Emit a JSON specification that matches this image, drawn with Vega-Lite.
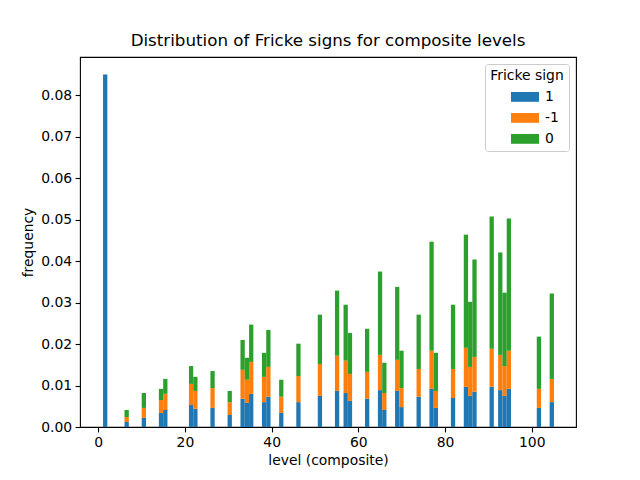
{
  "$schema": "https://vega.github.io/schema/vega-lite/v6.json",
  "width": 496,
  "height": 370,
  "autosize": "none",
  "padding": {"left": 80, "top": 57, "right": 64, "bottom": 53},
  "config": {
    "font": "DejaVu Sans",
    "view": {"stroke": "black", "strokeWidth": 1.1},
    "axis": {
      "labelFont": "DejaVu Sans", "labelFontSize": 13.9, "labelColor": "black",
      "titleFont": "DejaVu Sans", "titleFontSize": 13.9, "titleFontWeight": "normal", "titleColor": "black",
      "tickColor": "black", "tickSize": 4.9, "tickWidth": 1.1,
      "domain": false, "grid": false, "labelPadding": 3.5
    }
  },
  "title": {
    "text": "Distribution of Fricke signs for composite levels",
    "font": "DejaVu Sans", "fontSize": 16.7, "fontWeight": "normal", "color": "black", "offset": 7
  },
  "data": {
    "values": [
      {"bin_start": 1.000, "bin_end": 1.990, "1": 0.0850, "-1": 0, "0": 0},
      {"bin_start": 5.952, "bin_end": 6.943, "1": 0.0012, "-1": 0.0012, "0": 0.0017},
      {"bin_start": 9.914, "bin_end": 10.905, "1": 0.0022, "-1": 0.0024, "0": 0.0036},
      {"bin_start": 13.876, "bin_end": 14.867, "1": 0.0034, "-1": 0.0031, "0": 0.0027},
      {"bin_start": 14.867, "bin_end": 15.857, "1": 0.0041, "-1": 0.0039, "0": 0.0036},
      {"bin_start": 20.810, "bin_end": 21.800, "1": 0.0053, "-1": 0.0051, "0": 0.0043},
      {"bin_start": 21.800, "bin_end": 22.790, "1": 0.0044, "-1": 0.0043, "0": 0.0034},
      {"bin_start": 25.762, "bin_end": 26.752, "1": 0.0046, "-1": 0.0048, "0": 0.0041},
      {"bin_start": 29.724, "bin_end": 30.714, "1": 0.0029, "-1": 0.0031, "0": 0.0027},
      {"bin_start": 32.695, "bin_end": 33.686, "1": 0.0068, "-1": 0.0070, "0": 0.0072},
      {"bin_start": 33.686, "bin_end": 34.676, "1": 0.0058, "-1": 0.0056, "0": 0.0053},
      {"bin_start": 34.676, "bin_end": 35.667, "1": 0.0080, "-1": 0.0077, "0": 0.0090},
      {"bin_start": 37.648, "bin_end": 38.638, "1": 0.0060, "-1": 0.0061, "0": 0.0058},
      {"bin_start": 38.638, "bin_end": 39.629, "1": 0.0073, "-1": 0.0072, "0": 0.0089},
      {"bin_start": 41.610, "bin_end": 42.600, "1": 0.0034, "-1": 0.0039, "0": 0.0041},
      {"bin_start": 45.571, "bin_end": 46.562, "1": 0.0060, "-1": 0.0063, "0": 0.0078},
      {"bin_start": 50.524, "bin_end": 51.514, "1": 0.0075, "-1": 0.0077, "0": 0.0119},
      {"bin_start": 54.486, "bin_end": 55.476, "1": 0.0087, "-1": 0.0085, "0": 0.0157},
      {"bin_start": 56.467, "bin_end": 57.457, "1": 0.0082, "-1": 0.0078, "0": 0.0135},
      {"bin_start": 57.457, "bin_end": 58.448, "1": 0.0063, "-1": 0.0065, "0": 0.0099},
      {"bin_start": 61.419, "bin_end": 62.410, "1": 0.0068, "-1": 0.0065, "0": 0.0104},
      {"bin_start": 64.390, "bin_end": 65.381, "1": 0.0089, "-1": 0.0085, "0": 0.0201},
      {"bin_start": 65.381, "bin_end": 66.371, "1": 0.0041, "-1": 0.0041, "0": 0.0073},
      {"bin_start": 68.352, "bin_end": 69.343, "1": 0.0087, "-1": 0.0075, "0": 0.0176},
      {"bin_start": 69.343, "bin_end": 70.333, "1": 0.0048, "-1": 0.0046, "0": 0.0090},
      {"bin_start": 73.305, "bin_end": 74.295, "1": 0.0073, "-1": 0.0067, "0": 0.0131},
      {"bin_start": 76.276, "bin_end": 77.267, "1": 0.0092, "-1": 0.0092, "0": 0.0263},
      {"bin_start": 77.267, "bin_end": 78.257, "1": 0.0046, "-1": 0.0041, "0": 0.0092},
      {"bin_start": 81.229, "bin_end": 82.219, "1": 0.0070, "-1": 0.0070, "0": 0.0155},
      {"bin_start": 84.200, "bin_end": 85.190, "1": 0.0097, "-1": 0.0094, "0": 0.0273},
      {"bin_start": 85.190, "bin_end": 86.181, "1": 0.0075, "-1": 0.0070, "0": 0.0157},
      {"bin_start": 86.181, "bin_end": 87.171, "1": 0.0085, "-1": 0.0084, "0": 0.0235},
      {"bin_start": 90.143, "bin_end": 91.133, "1": 0.0097, "-1": 0.0092, "0": 0.0319},
      {"bin_start": 92.124, "bin_end": 93.114, "1": 0.0089, "-1": 0.0085, "0": 0.0247},
      {"bin_start": 93.114, "bin_end": 94.105, "1": 0.0075, "-1": 0.0072, "0": 0.0177},
      {"bin_start": 94.105, "bin_end": 95.095, "1": 0.0092, "-1": 0.0092, "0": 0.0319},
      {"bin_start": 101.038, "bin_end": 102.029, "1": 0.0046, "-1": 0.0046, "0": 0.0126},
      {"bin_start": 104.010, "bin_end": 105.000, "1": 0.0060, "-1": 0.0056, "0": 0.0206}
    ]
  },
  "transform": [
    {"fold": ["1", "-1", "0"], "as": ["sign", "frequency"]},
    {"stack": "frequency", "groupby": ["bin_start"], "as": ["f0", "f1"]}
  ],
  "mark": {"type": "bar", "binSpacing": 0},
  "encoding": {
    "x": {
      "field": "bin_start", "type": "quantitative", "bin": "binned",
      "scale": {"domain": [-4.2, 110.2], "nice": false, "zero": false},
      "axis": {"values": [0, 20, 40, 60, 80, 100], "format": "d", "title": "level (composite)", "titlePadding": 4}
    },
    "x2": {"field": "bin_end"},
    "y": {
      "field": "f0", "type": "quantitative",
      "scale": {"domain": [0, 0.08925], "nice": false},
      "axis": {"values": [0, 0.01, 0.02, 0.03, 0.04, 0.05, 0.06, 0.07, 0.08], "format": ".2f", "title": "frequency", "titlePadding": 5}
    },
    "y2": {"field": "f1"},
    "color": {
      "field": "sign", "type": "nominal", "sort": ["1", "-1", "0"],
      "scale": {"domain": ["1", "-1", "0"], "range": ["#1f77b4", "#ff7f0e", "#2ca02c"]},
      "legend": {
        "title": "Fricke sign", "orient": "top-right", "offset": 7,
        "fillColor": "rgba(255,255,255,0.8)", "strokeColor": "#cccccc", "cornerRadius": 3, "padding": 5,
        "titleFont": "DejaVu Sans", "titleFontSize": 13.9, "titleFontWeight": "normal", "titleColor": "black",
        "titleAnchor": "middle", "titlePadding": 7,
        "labelFont": "DejaVu Sans", "labelFontSize": 13.9, "labelColor": "black",
        "symbolType": "M-2,-0.7L2,-0.7L2,0.7L-2,0.7Z", "symbolSize": 196, "symbolStrokeWidth": 0,
        "symbolOpacity": 1, "symbolOffset": 22, "labelOffset": 13, "rowPadding": 7
      }
    }
  }
}
